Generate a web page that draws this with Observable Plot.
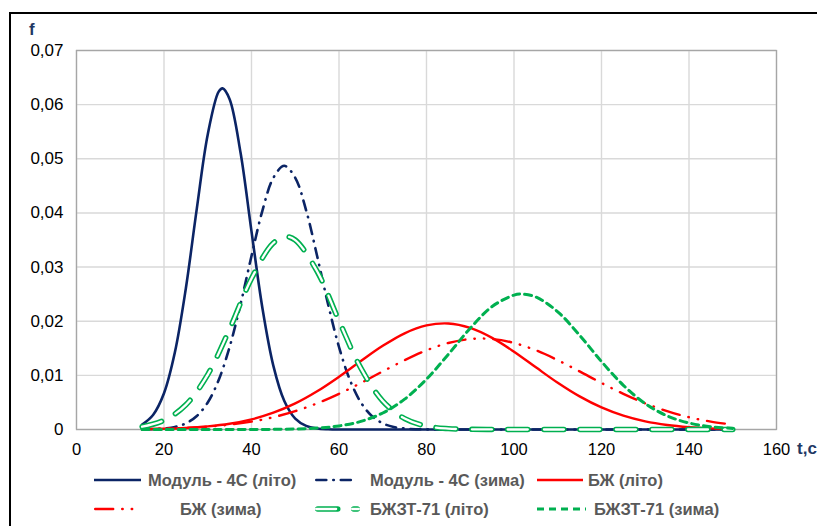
<!DOCTYPE html>
<html><head><meta charset="utf-8">
<script src="https://cdn.jsdelivr.net/npm/d3@7"></script>
<script src="https://cdn.jsdelivr.net/npm/@observablehq/plot@0.6"></script>
<style>
body{margin:0;background:#fff;font-family:"Liberation Sans",Arial,sans-serif;}
#wrap{position:relative;width:817px;height:526px;overflow:hidden;background:#fff;}
#border{position:absolute;left:9px;top:12px;width:1200px;height:1200px;border-left:2px solid #000;border-top:2px solid #000;}
#chart{position:absolute;left:0;top:0;}
.lab{position:absolute;font-weight:bold;color:#1F3864;font-size:17px;line-height:17px;white-space:nowrap;}
.leg{position:absolute;font-weight:bold;color:#595959;font-size:16.5px;line-height:17px;white-space:nowrap;}
.sw{position:absolute;overflow:visible;}
</style></head>
<body><div id="wrap"><div id="border"></div><div id="chart"></div></div>
<script>
// ---- data ----
const seriesNames = ["Модуль - 4С (літо)", "Модуль - 4С (зима)", "БЖ (літо)", "БЖ (зима)", "БЖЗТ-71 (літо)", "БЖЗТ-71 (зима)"];
const xTicks = [0, 20, 40, 60, 80, 100, 120, 140, 160];
const yTicks = [0, 0.01, 0.02, 0.03, 0.04, 0.05, 0.06, 0.07];
const yTickLabels = ["0", "0,01", "0,02", "0,03", "0,04", "0,05", "0,06", "0,07"];

const tModulSummer = [15,17.5,20,22.5,25,27.5,30,32.5,33.4,35,37.5,40,42.5,45,47.5,50,52.5,55,57.5,60,70,80,90,100,110,120,130,140,150];
const fModulSummer = [0.00092,0.00269,0.0067,0.0143,0.0261,0.0408,0.0545,0.0624,0.063,0.0610,0.0511,0.0366,0.0224,0.01176,0.00527,0.00202,0.00066,0.00019,0.000045,0,0,0,0,0,0,0,0,0,0];

const tModulWinter = [15,17.5,20,22.5,25,27.5,30,32.5,35,37.5,40,42.5,45,47.5,50,52.5,55,57.5,60,62.5,65,67.5,70,72.5,75,77.5,80,90,100,110,120,130,140,150];
const fModulWinter = [0.00002,0.00006,0.00018,0.00047,0.00113,0.00249,0.005,0.00914,0.01524,0.02315,0.03205,0.04044,0.04649,0.0487,0.04649,0.04044,0.03205,0.02315,0.01524,0.00914,0.005,0.00249,0.00113,0.00047,0.00018,0.00006,0.00002,0,0,0,0,0,0,0];

const tBZhSummer = [15,20,25,30,35,40,45,50,55,60,65,70,75,80,85,90,95,100,105,110,115,120,125,130,135,140,145,150];
const fBZhSummer = [0.00006,0.000136,0.000287,0.00057,0.00106,0.00187,0.0031,0.00482,0.00706,0.00974,0.01265,0.01545,0.01777,0.01922,0.01958,0.01876,0.01692,0.01437,0.01148,0.00863,0.00611,0.00407,0.00255,0.0015,0.000835,0.000437,0.000214,0.0000994];

const tBZhWinter = [15,20,25,30,35,40,45,50,55,60,65,70,75,80,85,90,95,100,105,110,115,120,125,130,135,140,145,150];
const fBZhWinter = [0.000082,0.000159,0.000296,0.000526,0.000896,0.00146,0.00227,0.00339,0.00483,0.00659,0.00859,0.01073,0.0128,0.01463,0.01598,0.01671,0.01671,0.01598,0.01463,0.0128,0.01073,0.00859,0.00659,0.00483,0.00339,0.00227,0.00146,0.000896];

const tBZhZTSummer = [15,20,25,30,35,40,45,47.9,50,55,60,65,70,75,80,85,90,95,100,110,120,130,140,150];
const fBZhZTSummer = [0.000514,0.00169,0.00456,0.01015,0.01855,0.02788,0.03445,0.0356,0.03499,0.02922,0.02007,0.01133,0.00526,0.00201,0.00063,0.000162,0.000034,0.000005,0,0,0,0,0,0];

const tBZhZTWinter = [15,20,25,30,35,40,45,50,55,60,65,70,75,80,85,90,95,100,101.8,105,110,115,120,125,130,135,140,145,150];
const fBZhZTWinter = [0,0,0,0.0000005,0.0000023,0.0000088,0.00003,0.000094,0.000262,0.000658,0.00149,0.00305,0.0056,0.0093,0.01389,0.01871,0.02271,0.02483,0.025,0.02447,0.02174,0.0174,0.01255,0.00816,0.00478,0.00252,0.0012,0.000515,0.000199];

// ---- styles ----
const NAVY = "#0B2465", RED = "#FF0000", GREEN = "#00B050";
const styles = [
  [{stroke: NAVY, strokeWidth: 2.6}],
  [{stroke: NAVY, strokeWidth: 2.6, strokeDasharray: "10,7,0.5,7", strokeLinecap: "round"}],
  [{stroke: RED, strokeWidth: 2.4}],
  [{stroke: RED, strokeWidth: 2.4, strokeDasharray: "18,9,0.5,9,0.5,9", strokeLinecap: "round"}],
  [{stroke: GREEN, strokeWidth: 5.5, strokeDasharray: "20,16", strokeLinecap: "round"},
   {stroke: "#ffffff", strokeWidth: 2.3, strokeDasharray: "20,16", strokeLinecap: "round"}],
  [{stroke: GREEN, strokeWidth: 3, strokeDasharray: "7,5"}]
];

const seriesT = [tModulSummer, tModulWinter, tBZhSummer, tBZhWinter, tBZhZTSummer, tBZhZTWinter];
const seriesF = [fModulSummer, fModulWinter, fBZhSummer, fBZhWinter, fBZhZTSummer, fBZhZTWinter];
const tables = seriesT.map((ts, k) => ts.map((t, i) => ({t, f: seriesF[k][i]})));

const lineMarks = [];
tables.forEach((tbl, k) => {
  styles[k].forEach(st => {
    lineMarks.push(Plot.line(tbl, {x: "t", y: "f", curve: "catmull-rom", ...st}));
  });
});

const chart = Plot.plot({
  width: 817, height: 470,
  marginLeft: 76, marginRight: 41, marginTop: 50, marginBottom: 41,
  style: {fontFamily: '"Liberation Sans", Arial, sans-serif', fontSize: "16px", color: "#000", background: "transparent"},
  x: {domain: [0, 160]},
  y: {domain: [0, 0.07]},
  marks: [
    Plot.gridX(xTicks, {stroke: "#d9d9d9", strokeOpacity: 1, strokeWidth: 1.4}),
    Plot.gridY(yTicks, {stroke: "#d9d9d9", strokeOpacity: 1, strokeWidth: 1.4}),
    Plot.frame({stroke: "#a6a6a6", strokeWidth: 1.3}),
    Plot.axisX(xTicks, {tickSize: 0, tickPadding: 14, tickFormat: d => String(d), fontSize: 16.5, label: null}),
    Plot.axisY(yTicks, {tickSize: 0, tickPadding: 13, tickFormat: d => yTickLabels[yTicks.indexOf(d)], fontSize: 17, label: null}),
    ...lineMarks
  ]
});
document.getElementById("chart").appendChild(chart);

// ---- axis titles ----
const wrap = document.getElementById("wrap");
function addLabel(text, cls, left, top) {
  const d = document.createElement("div");
  d.className = cls; d.textContent = text;
  d.style.left = left + "px"; d.style.top = top + "px";
  wrap.appendChild(d);
}
addLabel("f", "lab", 29, 21);
addLabel("t,с", "lab", 797, 440);

// ---- legend ----
const legendPos = [
  {sx: 94, sw: 47, tx: 148, cy: 480, top: 472},
  {sx: 315, sw: 41, tx: 370, cy: 480, top: 472},
  {sx: 537, sw: 46, tx: 588, cy: 480, top: 472},
  {sx: 94, sw: 46, tx: 180, cy: 509, top: 501},
  {sx: 315, sw: 45, tx: 370, cy: 509, top: 501},
  {sx: 537, sw: 49, tx: 594, cy: 509, top: 501}
];
const ns = "http://www.w3.org/2000/svg";
seriesNames.forEach((name, k) => {
  const p = legendPos[k];
  const svg = document.createElementNS(ns, "svg");
  svg.setAttribute("class", "sw");
  svg.setAttribute("width", p.sw + 6);
  svg.setAttribute("height", 14);
  svg.style.left = (p.sx - 3) + "px";
  svg.style.top = (p.cy - 7) + "px";
  styles[k].forEach(st => {
    const l = document.createElementNS(ns, "line");
    l.setAttribute("x1", 3 + (st.strokeLinecap === "round" ? st.strokeWidth / 2 : 0));
    l.setAttribute("x2", 3 + p.sw - (st.strokeLinecap === "round" ? st.strokeWidth / 2 : 0));
    l.setAttribute("y1", 7); l.setAttribute("y2", 7);
    l.setAttribute("stroke", st.stroke);
    l.setAttribute("stroke-width", st.strokeWidth);
    if (st.strokeDasharray) l.setAttribute("stroke-dasharray", st.strokeDasharray);
    if (st.strokeLinecap) l.setAttribute("stroke-linecap", st.strokeLinecap);
    svg.appendChild(l);
  });
  wrap.appendChild(svg);
  addLabel(name, "leg", p.tx, p.top);
});
</script>
</body></html>
